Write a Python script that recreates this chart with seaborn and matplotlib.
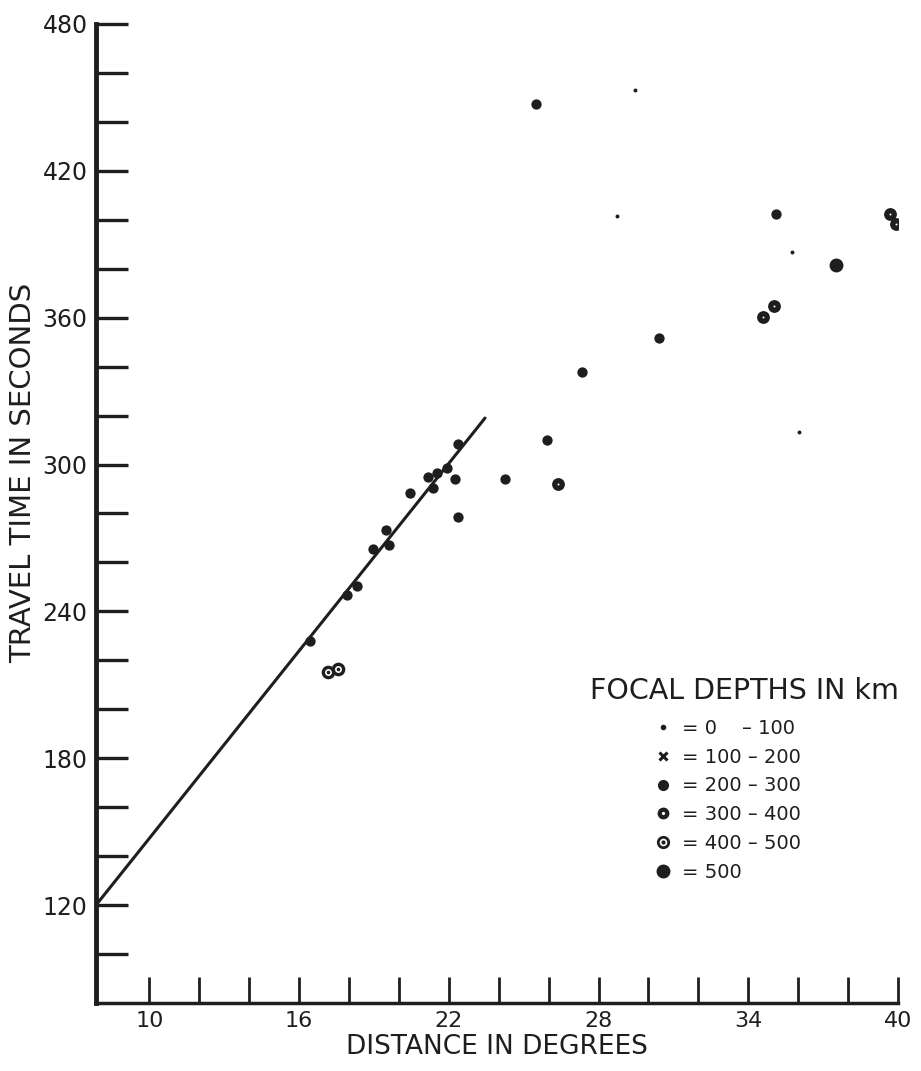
import matplotlib
matplotlib.use("Agg")
import matplotlib.pyplot as plt
from matplotlib.lines import Line2D
from matplotlib.legend_handler import HandlerTuple
import seaborn as sns
import pandas as pd

# ---- data ----
depth_0_100_x = [36.05, 35.77, 29.45, 28.72]
depth_0_100_y = [313.2, 386.7, 453.0, 401.7]

depth_200_300_x = [16.44, 17.93, 18.33, 18.97, 19.47, 19.62, 20.44, 21.18, 21.51, 21.35,
                   21.94, 22.38, 22.24, 22.38, 24.27, 25.93, 27.33, 30.41, 35.10, 25.50]
depth_200_300_y = [227.8, 246.6, 250.3, 265.3, 273.2, 267.1, 288.2, 294.8, 296.4, 290.5,
                   298.4, 308.2, 293.9, 278.7, 294.0, 310.2, 337.7, 351.8, 402.4, 447.3]

depth_300_400_x = [26.38, 34.57, 35.02, 39.68, 39.92]
depth_300_400_y = [292.2, 360.3, 364.6, 402.3, 398.4]

depth_400_500_x = [17.15, 17.57]
depth_400_500_y = [215.4, 216.6]

depth_500_x = [37.51]
depth_500_y = [381.6]

fit_x = [7.86, 23.45]
fit_y = [120.0, 319.0]

legend_labels = ["= 0    \u2013 100", "= 100 \u2013 200", "= 200 \u2013 300",
                 "= 300 \u2013 400", "= 400 \u2013 500", "= 500"]
x_ticks = list(range(10, 41, 6))
y_ticks = list(range(120, 481, 60))

# ---- style ----
sns.set_style("ticks")
plt.rcParams["font.family"] = ["DejaVu Sans"]
ink = "#1e1e1e"
plt.rcParams["text.color"] = ink
plt.rcParams["axes.labelcolor"] = ink
plt.rcParams["xtick.color"] = ink
plt.rcParams["ytick.color"] = ink

fig = plt.figure(figsize=(9.21, 10.71), dpi=100)
ax = fig.add_axes([96 / 921, 1 - 1003 / 1071, (898 - 96) / 921, (1003 - 24) / 1071])

def df(x, y):
    return pd.DataFrame({"distance": x, "time": y})

# fitted line
sns.lineplot(data=df(fit_x, fit_y), x="distance", y="time", ax=ax, color=ink, lw=2.2,
             zorder=2)

# 0-100: small dots
sns.scatterplot(data=df(depth_0_100_x, depth_0_100_y), x="distance", y="time", ax=ax,
                marker="o", s=8, color=ink, edgecolor=ink, linewidth=0, zorder=3)
# 200-300: filled dots
sns.scatterplot(data=df(depth_200_300_x, depth_200_300_y), x="distance", y="time", ax=ax,
                marker="o", s=55, color=ink, edgecolor=ink, linewidth=0, zorder=3)
# 300-400: dark circle with light centre
sns.scatterplot(data=df(depth_300_400_x, depth_300_400_y), x="distance", y="time", ax=ax,
                marker="o", s=85, color=ink, edgecolor=ink, linewidth=0, zorder=3)
sns.scatterplot(data=df(depth_300_400_x, depth_300_400_y), x="distance", y="time", ax=ax,
                marker="o", s=2, color="white", edgecolor="white", linewidth=0, zorder=4)
# 400-500: ring with centre dot
sns.scatterplot(data=df(depth_400_500_x, depth_400_500_y), x="distance", y="time", ax=ax,
                marker="o", s=55, color="white", edgecolor=ink, linewidth=2.4, zorder=3)
sns.scatterplot(data=df(depth_400_500_x, depth_400_500_y), x="distance", y="time", ax=ax,
                marker="o", s=7, color=ink, edgecolor=ink, linewidth=0, zorder=4)
# 500: large filled dot
sns.scatterplot(data=df(depth_500_x, depth_500_y), x="distance", y="time", ax=ax,
                marker="o", s=100, color=ink, edgecolor=ink, linewidth=0, zorder=3)

# ---- axes ----
ax.set_xlim(7.86, 40)
ax.set_ylim(80, 480)
ax.set_xticks(x_ticks)
ax.set_xticks(list(range(10, 41, 2)), minor=True)
ax.set_yticks(y_ticks)
ax.set_yticks(list(range(100, 481, 20)), minor=True)
ax.tick_params(axis="x", which="both", direction="in", length=19, width=2, pad=6,
               labelsize=16)
ax.tick_params(axis="y", which="both", direction="in", length=23, width=2.4, pad=6,
               labelsize=17)
sns.despine(ax=ax)
ax.spines["left"].set_linewidth(3.5)
ax.spines["bottom"].set_linewidth(2.5)
ax.spines["left"].set_color(ink)
ax.spines["bottom"].set_color(ink)
ax.set_xlabel("DISTANCE IN DEGREES", fontsize=19, labelpad=2)
ax.set_ylabel("TRAVEL TIME IN SECONDS", fontsize=21)
ax.yaxis.set_label_coords(-0.073, 0.542)

# ---- legend ----
handles = [
    Line2D([], [], ls="", marker="o", ms=3, mfc=ink, mec=ink),
    Line2D([], [], ls="", marker="x", ms=6, mew=2.2, color=ink),
    Line2D([], [], ls="", marker="o", ms=7, mfc=ink, mec=ink),
    (Line2D([], [], ls="", marker="o", ms=7.5, mfc=ink, mec=ink),
     Line2D([], [], ls="", marker="o", ms=1.3, mfc="white", mec="white")),
    (Line2D([], [], ls="", marker="o", ms=7.5, mfc="white", mec=ink, mew=2),
     Line2D([], [], ls="", marker="o", ms=2, mfc=ink, mec=ink)),
    Line2D([], [], ls="", marker="o", ms=9, mfc=ink, mec=ink),
]
fig.text(590 / 921, 1 - 691 / 1071, "FOCAL DEPTHS IN km", fontsize=20.5, color=ink,
         va="center", ha="left")
ax.legend(handles, legend_labels, handler_map={tuple: HandlerTuple(ndivide=1)},
          loc="upper left", bbox_to_anchor=(655 / 921, 1 - 719 / 1071),
          bbox_transform=fig.transFigure, frameon=False, fontsize=14,
          handlelength=0.8, handletextpad=0.6, labelspacing=0.5, borderpad=0,
          borderaxespad=0)

fig.savefig("out.png", dpi=100, facecolor="white")
